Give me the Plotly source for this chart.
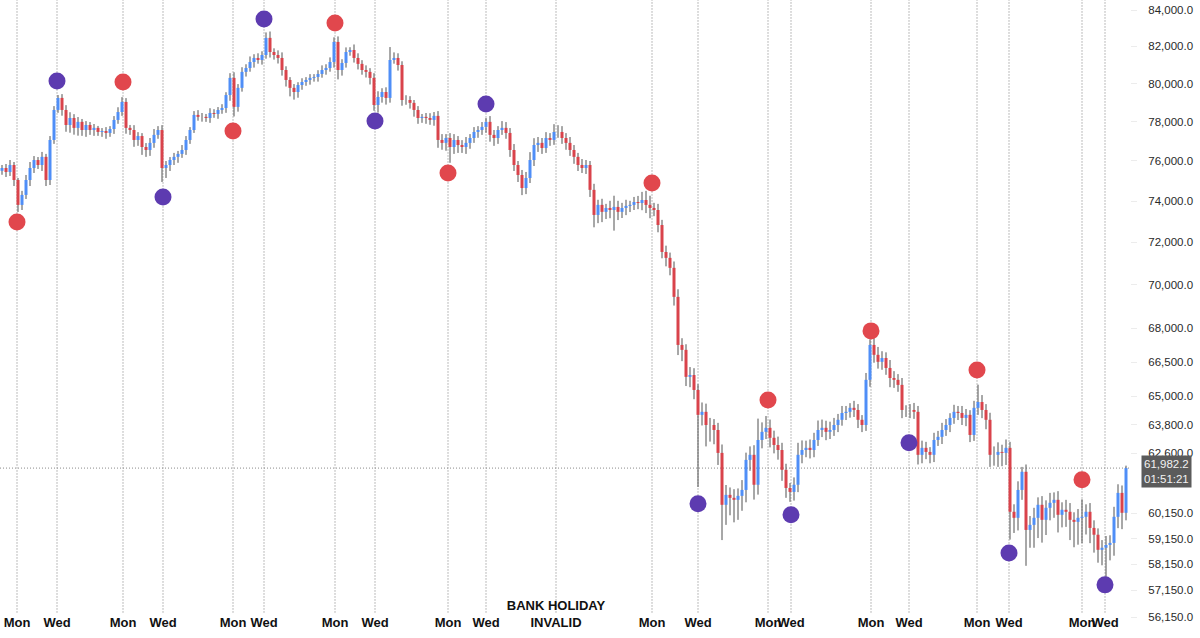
import plotly.graph_objects as go
import math

# ---------------- data ----------------
first_open = 75500
closes = [
    75640, 75440, 75790, 75040, 73810, 74300, 75040, 75640, 76040, 75790,
    76200, 75040, 77060, 78610, 79240, 78610, 77830, 78190, 77680, 77990,
    77570, 77830, 77570, 77680, 77470, 77520, 77420, 77620, 78090, 78500,
    79030, 77680, 77570, 77060, 77260, 76700, 76550, 76910, 77320, 77570,
    75640, 75790, 76040, 76200, 76350, 76550, 77060, 77570, 78350, 78250,
    78250, 78190, 78450, 78400, 78610, 78710, 79390, 80300, 78770, 79770,
    80620, 80830, 81150, 81370, 81260, 81530, 82460, 81690, 81530, 81370,
    80720, 80190, 79770, 79550, 79920, 80080, 80190, 80300, 80350, 80510,
    80720, 80830, 81150, 82240, 80720, 81100, 81690, 81800, 81370, 81050,
    80720, 80620, 80300, 78870, 79290, 79550, 79240, 81260, 81370, 80990,
    79130, 79130, 78980, 78610, 78190, 78250, 78190, 78090, 78300, 77060,
    76910, 77160, 76700, 77060, 76800, 76700, 76910, 77160, 77470, 77570,
    77730, 77990, 77320, 77160, 77570, 77680, 77420, 76550, 75790, 75290,
    74640, 75140, 76040, 76800, 76910, 76650, 77160, 77060, 77470, 77470,
    77160, 76910, 76550, 76200, 75790, 75640, 75790, 74550, 73320, 73810,
    73470, 73660, 73560, 73710, 73470, 73660, 73760, 73810, 73950, 73900,
    74050, 73810, 73660, 73560, 72830, 71540, 71260, 70790, 69440, 67260,
    67040, 65850, 65930, 65280, 64210, 64340, 63780, 63780, 63570, 62610,
    60490, 60890, 60770, 60690, 60850, 61090, 62320, 62530, 61300, 63150,
    63490, 63660, 63240, 62940, 62730, 61910, 61170, 61010, 61300, 62530,
    62730, 62820, 62730, 63150, 63570, 63660, 63490, 63570, 63780, 64000,
    64290, 64340, 64510, 64420, 64000, 63780, 65720, 67260, 66820, 66510,
    66680, 66240, 65800, 65720, 65500, 64420, 64420, 64420, 64340, 62530,
    62820, 62650, 62530, 63150, 63280, 63570, 63780, 64080, 64340, 64290,
    64080, 64210, 63360, 64510, 64760, 64420, 64000, 62530, 62530, 62650,
    62610, 62820, 60210, 59970, 61090, 61830, 59490, 59690, 59970, 60490,
    59890, 60370, 60570, 60690, 60090, 60290, 60210, 59890, 59810, 59970,
    60010, 60210, 59570, 59300, 58710, 58790, 58900, 58980, 60010, 60970,
    60170, 61982.2,
]
upper_wick = [
    150, 200, 250, 150, 100, 200, 250, 300, 200, 150,
    250, 150, 200, 200, 150, 200, 250, 300, 200, 250,
    150, 200, 150, 200, 100, 150, 200, 150, 200, 250,
    250, 200, 150, 250, 200, 150, 200, 250, 300, 200,
    250, 200, 150, 200, 150, 250, 200, 150, 200, 250,
    200, 150, 250, 200, 150, 200, 150, 250, 300, 200,
    250, 200, 300, 200, 250, 200, 300, 350, 200, 250,
    300, 200, 150, 200, 150, 200, 150, 200, 150, 200,
    250, 200, 250, 250, 300, 200, 250, 150, 300, 250,
    200, 250, 200, 250, 300, 200, 250, 700, 300, 250,
    200, 250, 200, 150, 200, 150, 200, 250, 200, 250,
    300, 200, 250, 300, 200, 250, 300, 200, 250, 200,
    250, 200, 300, 250, 200, 350, 300, 250, 300, 200,
    250, 300, 400, 350, 300, 250, 300, 250, 400, 350,
    300, 250, 300, 250, 200, 300, 250, 200, 300, 250,
    300, 200, 350, 550, 300, 250, 300, 200, 250, 300,
    400, 450, 450, 250, 300, 250, 300, 250, 300, 350,
    300, 250, 350, 300, 250, 400, 350, 300, 250, 300,
    350, 400, 300, 350, 300, 400, 300, 350, 400, 900,
    400, 500, 350, 300, 350, 300, 250, 200, 300, 500,
    400, 300, 350, 300, 400, 350, 300, 350, 300, 250,
    300, 250, 200, 300, 250, 200, 300, 250, 300, 350,
    300, 250, 350, 300, 250, 300, 200, 250, 300, 250,
    300, 250, 200, 300, 250, 300, 250, 200, 300, 250,
    300, 250, 200, 300, 750, 300, 250, 300, 350, 400,
    300, 350, 250, 300, 350, 200, 300, 350, 400, 300,
    350, 300, 400, 300, 350, 300, 400, 350, 300, 350,
    700, 300, 350, 300, 250, 300, 350, 300, 400, 350,
    300, 100,
]
lower_wick = [
    200, 250, 200, 300, 350, 250, 200, 300, 250, 200,
    300, 300, 250, 200, 150, 300, 350, 400, 350, 400,
    300, 350, 250, 300, 200, 250, 300, 200, 250, 200,
    200, 300, 250, 350, 300, 400, 350, 300, 250, 200,
    700, 500, 300, 250, 300, 200, 250, 200, 150, 200,
    250, 200, 250, 200, 250, 200, 250, 300, 500, 250,
    200, 250, 200, 300, 200, 250, 200, 300, 250, 300,
    300, 350, 450, 400, 300, 250, 200, 250, 200, 250,
    200, 250, 200, 300, 500, 300, 250, 200, 250, 300,
    250, 300, 350, 300, 400, 300, 350, 250, 200, 300,
    300, 250, 300, 350, 300, 250, 300, 250, 300, 400,
    350, 400, 800, 350, 400, 300, 350, 300, 250, 300,
    250, 300, 350, 400, 300, 250, 300, 350, 300, 350,
    350, 300, 250, 300, 350, 300, 250, 300, 250, 300,
    300, 350, 300, 350, 300, 250, 300, 350, 600, 400,
    500, 350, 400, 1000, 400, 300, 350, 300, 250, 300,
    350, 400, 500, 300, 350, 300, 400, 350, 400, 450,
    500, 400, 450, 400, 3000, 450, 900, 700, 600, 500,
    1400, 800, 700, 900, 800, 600, 500, 450, 600, 400,
    350, 300, 400, 350, 400, 450, 400, 400, 350, 300,
    350, 300, 350, 300, 250, 300, 350, 300, 250, 300,
    250, 300, 250, 300, 350, 300, 250, 300, 350, 300,
    350, 300, 400, 350, 300, 350, 300, 350, 300, 400,
    350, 300, 350, 300, 250, 300, 250, 300, 250, 300,
    300, 350, 300, 250, 300, 350, 400, 500, 450, 500,
    550, 500, 1100, 600, 500, 400, 1400, 700, 900, 800,
    900, 600, 500, 600, 700, 500, 600, 800, 1000, 900,
    1000, 700, 600, 700, 500, 600, 1200, 600, 500, 450,
    650, 300,
]

tick_pos = [3.75, 13.75, 30.25, 40.25, 57.75, 65.5, 83.25, 93.25, 111.5, 121,
            138.5, 162.5, 174, 191.5, 197.25, 217.25, 226.75, 243.75, 251.75,
            270, 275.75]
tick_names = ["Mon", "Wed", "Mon", "Wed", "Mon", "Wed", "Mon", "Wed", "Mon", "Wed",
              "BANK HOLIDAY|INVALID", "Mon", "Wed", "Mon", "Wed", "Mon", "Wed",
              "Mon", "Wed", "Mon", "Wed"]

price_ticks = [84000, 82000, 80000, 78000, 76000, 74000, 72000, 70000, 68000,
               66500, 65000, 63800, 62600, 60150, 59150, 58150, 57150, 56150]

red_x = [3.75, 30.25, 57.75, 83.25, 111.5, 162.5, 191.5, 217.25, 243.75, 270]
red_y = [72980, 80080, 77520, 83280, 75390, 74890, 64850, 67890, 66150, 61500]
purple_x = [13.75, 40.25, 65.5, 93.25, 121, 174, 197.25, 226.75, 251.75, 275.75]
purple_y = [80140, 74200, 83500, 78040, 78920, 60530, 60090, 63030, 58590, 57360]

last_time = "01:51:21"

# ---------------- derived ----------------
n = len(closes)
idx = list(range(n))
opens = [first_open] + closes[:-1]
body_hi = [max(o, c) for o, c in zip(opens, closes)]
body_lo = [min(o, c) for o, c in zip(opens, closes)]
highs = [h + u for h, u in zip(body_hi, upper_wick)]
lows = [l - w for l, w in zip(body_lo, lower_wick)]

wx, wy = [], []
ux, uy, dx, dy = [], [], [], []
for i in idx:
    wx += [i, i, None]
    wy += [lows[i], highs[i], None]
    if closes[i] >= opens[i]:
        ux += [i, i, None]
        uy += [opens[i], closes[i], None]
    else:
        dx += [i, i, None]
        dy += [opens[i], closes[i], None]

UP = "#4f8ef7"
DOWN = "#d9434b"
RED_DOT = "#e1474d"
PURPLE_DOT = "#5d3bb0"

fig = go.Figure()

x_lo, x_hi = -0.5, n + 0.0
last = closes[-1]

# dotted current-price line
fig.add_trace(go.Scatter(
    x=[x_lo, x_hi], y=[last, last], mode="lines",
    line=dict(color="#8a8a8a", width=1, dash="1px,2px"),
    hoverinfo="skip", showlegend=False))

# wicks
fig.add_trace(go.Scatter(
    x=wx, y=wy, mode="lines", line=dict(color="#505050", width=1),
    hoverinfo="skip", showlegend=False))

# bodies (up / down)
fig.add_trace(go.Scatter(
    x=ux, y=uy, mode="lines", line=dict(color=UP, width=3),
    hoverinfo="skip", showlegend=False))
fig.add_trace(go.Scatter(
    x=dx, y=dy, mode="lines", line=dict(color=DOWN, width=3),
    hoverinfo="skip", showlegend=False))

fig.add_trace(go.Scatter(
    x=red_x, y=red_y, mode="markers",
    marker=dict(color=RED_DOT, size=17, line=dict(width=0)),
    showlegend=False, hoverinfo="skip"))
fig.add_trace(go.Scatter(
    x=purple_x, y=purple_y, mode="markers",
    marker=dict(color=PURPLE_DOT, size=17, line=dict(width=0)),
    showlegend=False, hoverinfo="skip"))

# vertical dotted day lines
for p in tick_pos:
    fig.add_shape(type="line", xref="x", yref="paper", x0=p, x1=p, y0=0.04, y1=1,
                  line=dict(color="#7a7a7a", width=1, dash="1px,2px"), layer="below")

tick_text = []
for t in tick_names:
    if "|" in t:
        tick_text.append("<br>".join(t.split("|")))
    else:
        tick_text.append("\u00a0<br>" + t)

ylo = math.log10(56150) - (638 - 617) / 3470.0
yhi = math.log10(84000) + 10 / 3470.0

fig.update_layout(
    width=1200, height=638,
    margin=dict(l=0, r=70, t=0, b=0, autoexpand=False),
    paper_bgcolor="white", plot_bgcolor="white",
    showlegend=False, hovermode=False,
    xaxis=dict(
        range=[x_lo, x_hi], tickvals=tick_pos, ticktext=tick_text,
        showgrid=False, zeroline=False, showline=False, ticks="",
        anchor="free", position=0.066, tickangle=0, automargin=False,
        tickfont=dict(family="Liberation Sans", size=13, color="#111", weight="bold"),
        fixedrange=True,
    ),
    yaxis=dict(
        type="log", range=[ylo, yhi], side="right", automargin=False,
        tickvals=price_ticks, ticktext=[f"{v:,.1f}" for v in price_ticks],
        showgrid=False, zeroline=False, showline=False,
        ticks="outside", ticklen=6, tickcolor="#ececec",
        ticklabelstandoff=9,
        tickfont=dict(family="Liberation Sans", size=11.5, color="#2a2a2a"),
        fixedrange=True,
    ),
)

fig.add_annotation(
    xref="paper", yref="y", x=1, y=math.log10(last), xanchor="left", yanchor="middle",
    xshift=11, yshift=-3, text=f"{last:,.1f}<br>{last_time}", showarrow=False, align="left",
    bgcolor="#5b5b5b", borderpad=2,
    font=dict(family="Liberation Sans", size=11.5, color="#f2f2f2"))

fig.write_html("out.html")
